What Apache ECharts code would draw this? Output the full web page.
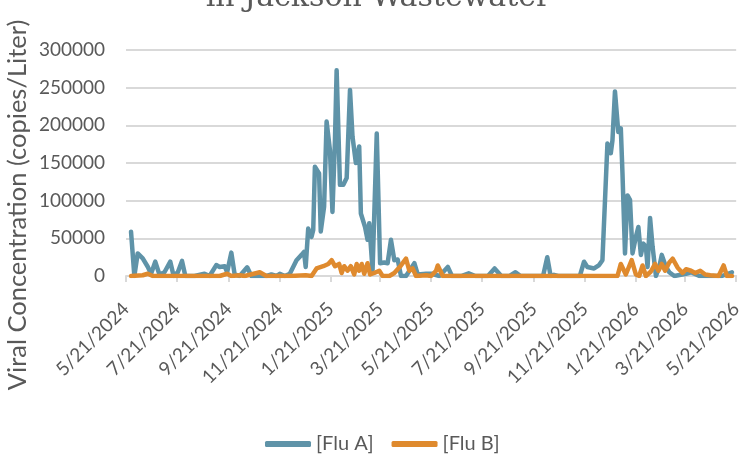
<!DOCTYPE html>
<html>
<head>
<meta charset="utf-8">
<script src="https://cdn.jsdelivr.net/npm/echarts@6/dist/echarts.min.js"></script>
<style>
html,body{margin:0;padding:0;background:#fff;}
#chart{width:745px;height:454px;}
</style>
</head>
<body>
<div id="chart"></div>
<script>
var titleText = 'in Jackson Wastewater';
var yAxisName = 'Viral Concentration (copies/Liter)';
var seriesNames = ['[Flu A]', '[Flu B]'];
var xTickLabels = ['5/21/2024','7/21/2024','9/21/2024','11/21/2024','1/21/2025','3/21/2025','5/21/2025','7/21/2025','9/21/2025','11/21/2025','1/21/2026','3/21/2026','5/21/2026'];
var yTicks = [0, 50000, 100000, 150000, 200000, 250000, 300000];

var fluADates = ['2024-05-27','2024-05-31','2024-06-04','2024-06-10','2024-06-16','2024-06-20','2024-06-25','2024-06-30','2024-07-06','2024-07-13','2024-07-17','2024-07-22','2024-07-27','2024-07-31','2024-08-11','2024-08-23','2024-08-29','2024-09-06','2024-09-10','2024-09-16','2024-09-19','2024-09-24','2024-09-28','2024-10-04','2024-10-13','2024-10-18','2024-10-28','2024-11-05','2024-11-11','2024-11-17','2024-11-21','2024-11-27','2024-12-03','2024-12-11','2024-12-17','2024-12-20','2024-12-22','2024-12-25','2024-12-29','2024-12-31','2025-01-02','2025-01-07','2025-01-09','2025-01-13','2025-01-16','2025-01-20','2025-01-23','2025-01-26','2025-01-28','2025-02-01','2025-02-05','2025-02-09','2025-02-13','2025-02-16','2025-02-20','2025-02-24','2025-02-26','2025-03-03','2025-03-06','2025-03-08','2025-03-12','2025-03-17','2025-03-21','2025-03-26','2025-03-30','2025-04-03','2025-04-07','2025-04-11','2025-04-15','2025-04-21','2025-05-01','2025-05-05','2025-05-15','2025-05-22','2025-05-31','2025-06-10','2025-06-15','2025-06-26','2025-07-05','2025-07-13','2025-07-28','2025-08-05','2025-08-13','2025-08-23','2025-08-30','2025-09-05','2025-10-02','2025-10-07','2025-10-11','2025-10-15','2025-10-20','2025-11-15','2025-11-20','2025-11-24','2025-12-02','2025-12-08','2025-12-12','2025-12-18','2025-12-22','2025-12-24','2025-12-27','2025-12-31','2026-01-03','2026-01-05','2026-01-08','2026-01-11','2026-01-14','2026-01-17','2026-01-21','2026-01-24','2026-01-27','2026-01-30','2026-02-02','2026-02-04','2026-02-07','2026-02-10','2026-02-14','2026-02-18','2026-02-21','2026-02-26','2026-03-02','2026-03-08','2026-03-22','2026-03-28','2026-04-07','2026-04-22','2026-05-04','2026-05-16'];
var fluAValues = [58800,0,30000,23500,12300,3000,19000,2000,5000,19000,0,5000,20000,0,0,3000,0,14500,12000,13000,5000,31000,2000,0,11500,0,0,0,2000,0,3000,0,3000,21000,28000,32000,12000,63000,52000,61000,145000,136000,59000,92000,205000,167000,85000,180000,273000,121000,121000,130000,247000,185000,150000,172000,83000,65000,48000,70000,8000,189000,17000,18000,17000,48000,21000,22000,0,0,17000,2000,3000,3000,0,12000,0,0,3500,0,0,10000,0,0,5000,0,0,25000,0,1500,0,0,19000,12000,10000,14500,21000,176000,163000,180000,245000,191000,196000,136000,30000,107000,101000,30000,52000,65000,28000,43000,39000,12000,77000,39000,0,12000,28000,12000,5000,0,3000,5000,0,0,0,5000];

var fluBDates = ['2024-05-27','2024-06-10','2024-06-16','2024-06-22','2024-09-10','2024-09-19','2024-09-24','2024-10-04','2024-10-10','2024-10-28','2024-11-05','2024-12-03','2024-12-22','2024-12-29','2025-01-04','2025-01-12','2025-01-18','2025-01-22','2025-01-26','2025-01-31','2025-02-03','2025-02-06','2025-02-10','2025-02-14','2025-02-18','2025-02-21','2025-02-24','2025-02-27','2025-03-02','2025-03-06','2025-03-09','2025-03-14','2025-03-20','2025-03-24','2025-04-01','2025-04-07','2025-04-15','2025-04-21','2025-04-25','2025-04-29','2025-05-03','2025-05-15','2025-05-21','2025-05-27','2025-05-29','2025-06-04','2025-12-30','2026-01-03','2026-01-09','2026-01-16','2026-01-21','2026-01-25','2026-01-29','2026-02-02','2026-02-08','2026-02-13','2026-02-17','2026-02-21','2026-02-25','2026-03-02','2026-03-06','2026-03-12','2026-03-18','2026-03-22','2026-03-28','2026-04-02','2026-04-08','2026-04-14','2026-04-20','2026-04-30','2026-05-06','2026-05-10','2026-05-16'];
var fluBValues = [0,1000,3000,0,0,3000,0,1000,0,5000,0,0,1000,0,10000,13000,16000,21000,13000,16000,4000,13000,7000,13000,2000,16000,7000,16000,3000,17000,2000,4000,7000,0,0,4000,14000,23000,7000,10000,0,1000,0,7000,14000,0,0,16000,2000,21000,2000,0,14000,0,6000,16000,7000,16000,7000,18000,23000,11000,4000,9000,7000,4000,7000,2000,1000,0,14000,0,0];

function parseMDY(s){ var p = s.split('/'); return new Date(+p[2], +p[0]-1, +p[1]).getTime(); }
function parseISO(s){ var p = s.split('-'); return new Date(+p[0], +p[1]-1, +p[2]).getTime(); }
var tickVals = xTickLabels.map(parseMDY);
function labelFor(v){
  for (var i = 0; i < tickVals.length; i++) { if (Math.abs(tickVals[i] - v) < 3600000) return xTickLabels[i]; }
  return '';
}
function pairs(dates, vals){ return dates.map(function(d,i){ return [parseISO(d), vals[i]]; }); }

var textColor = '#595959';
var chart = echarts.init(document.getElementById('chart'));
chart.setOption({
  animation: false,
  backgroundColor: '#ffffff',
  textStyle: { fontFamily: 'Lato' },
  graphic: [
    { type: 'text', x: 378, y: 13, style: { text: titleText, fill: textColor, font: '30px "DejaVu Serif"', textAlign: 'center', textVerticalAlign: 'bottom' } },
    { type: 'text', x: 18, y: 205, rotation: Math.PI/2, style: { text: yAxisName, fill: textColor, font: '25.5px Lato', textAlign: 'center', textVerticalAlign: 'middle' } }
  ],
  legend: {
    left: 260, top: 429,
    itemWidth: 46, itemHeight: 6, itemGap: 18,
    icon: 'roundRect',
    textStyle: { color: textColor, fontSize: 20, fontFamily: 'Lato' },
    data: seriesNames
  },
  grid: { left: 126, right: 8, top: 50, bottom: 178, containLabel: false },
  xAxis: {
    type: 'value',
    min: tickVals[0], max: tickVals[tickVals.length-1],
    axisLine: { show: true, onZero: false, lineStyle: { color: '#d9d9d9', width: 2 } },
    axisTick: { show: true, customValues: tickVals, length: 6, lineStyle: { color: '#d9d9d9', width: 2 } },
    axisLabel: { customValues: tickVals, rotate: 45, margin: 30, color: textColor, fontSize: 19, fontFamily: 'Lato',
      formatter: function(v){ return labelFor(v); } },
    splitLine: { show: false }
  },
  yAxis: {
    type: 'value', min: 0, max: 300000, interval: 50000,
    axisLine: { show: false }, axisTick: { show: false },
    axisLabel: { color: textColor, fontSize: 19, fontFamily: 'Lato', margin: 21, formatter: function(v){ return String(v); } },
    splitLine: { lineStyle: { color: '#d9d9d9', width: 2 } }
  },
  series: [
    { name: seriesNames[0], type: 'line', data: pairs(fluADates, fluAValues), showSymbol: false, symbol: 'none',
      color: '#5f93a8', lineStyle: { width: 4.5, color: '#5f93a8', cap: 'round', join: 'round' } },
    { name: seriesNames[1], type: 'line', data: pairs(fluBDates, fluBValues), showSymbol: false, symbol: 'none',
      color: '#df8a2e', lineStyle: { width: 4.5, color: '#df8a2e', cap: 'round', join: 'round' } }
  ]
});
</script>
</body>
</html>
